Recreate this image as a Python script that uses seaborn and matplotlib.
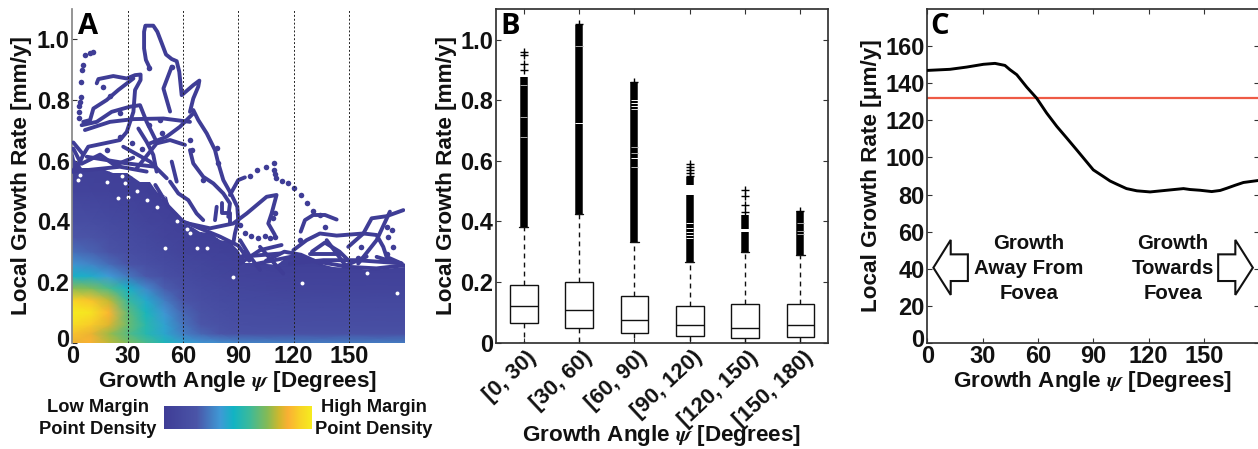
import numpy as np
import pandas as pd
import seaborn as sns
import matplotlib.pyplot as plt
from matplotlib.colors import LinearSegmentedColormap
from matplotlib.patches import Polygon
from matplotlib.transforms import ScaledTranslation

# values
colour_positions = [0, .22, .38, .47, .58, .70, .78, .84, .92, 1]
colour_stops = ["#3f3d96", "#4b55a8", "#3f9ad6", "#12b4c4", "#3dba9a", "#86bb55",
                "#d0b82e", "#fbb034", "#f8d327", "#f6ec1f"]

field_angles = [0, 10, 20, 30, 40, 50, 60, 70, 80, 90, 120, 150, 180.5]
field_rates = [0, .03, .06, .10, .14, .18, .22, .26, .30, .35, .40, .50, .70]
field_density = [
    [.82, .84, .76, .68, .60, .50, .41, .37, .35, .33, .31, .31, .31],
    [.88, .82, .72, .62, .52, .42, .32, .26, .22, .19, .18, .18, .18],
    [.95, .90, .80, .66, .53, .41, .29, .22, .18, .16, .15, .15, .15],
    [1.0, .97, .85, .64, .49, .37, .26, .19, .16, .14, .13, .13, .13],
    [.92, .88, .76, .57, .43, .31, .21, .16, .13, .12, .10, .10, .10],
    [.70, .68, .60, .46, .34, .24, .17, .13, .11, .09, .07, .07, .07],
    [.46, .44, .38, .30, .23, .17, .13, .10, .08, .07, .05, .05, .05],
    [.36, .33, .27, .21, .17, .13, .10, .08, .06, .05, .03, .03, .03],
    [.28, .25, .20, .16, .13, .10, .07, .05, .04, .03, .01, .01, .01],
    [.22, .20, .16, .13, .10, .07, .05, .03, .02, .01, 0, 0, 0],
    [.16, .15, .12, .10, .07, .05, .03, .01, 0, 0, 0, 0, 0],
    [.07, .06, .05, .04, .02, 0, 0, 0, 0, 0, 0, 0, 0],
    [0, 0, 0, 0, 0, 0, 0, 0, 0, 0, 0, 0, 0],
]
edge_angles = [0, 1.4, 5, 15, 22.2, 29.5, 36.7, 42.1, 45.8, 51.2, 53, 56.6, 59.3, 64.7, 69.3, 74.6, 80.1,
               85.5, 90, 93.7, 100, 110.8, 116.3, 123.5, 132.5, 141.6, 150.6, 163.3, 180.5]
edge_rates = [.646, .602, .575, .575, .558, .558, .53, .53, .497, .481, .442, .426, .393, .382, .365, .36, .34,
              .332, .305, .262, .262, .256, .284, .284, .262, .251, .245, .24, .25]

traces = [
    ([42.1, 39.9, 38.9, 38.9, 39.6, 43.9, 46.1, 48.5, 50.8, 53.9, 56.6, 58, 59.3, 62, 65.6, 68.9, 68.3, 65.6, 63.8],
     [.904, .932, .97, 1.025, 1.045, 1.045, 1.025, .987, .95, .935, .928, .893, .816, .83, .849, .864, .844, .805, .761]),
    ([65.6, 68.3, 72.9, 77.4, 79.2, 81.9, 86.4, 89.5, 90, 88.2, 87.3],
     [.767, .734, .69, .635, .591, .536, .487, .448, .404, .36, .328]),
    ([63.8, 65.6, 71, 76.5, 81.9, 85.5, 84.6], [.635, .591, .547, .525, .492, .459, .415]),
    ([85.5, 90, 93.6], [.487, .536, .545]),
    ([78.3, 77.4], [.448, .404]),
    ([81, 81, 85.5, 85.5], [.459, .426, .426, .393]),
    ([53, 57.5, 62.9, 67.4, 71], [.531, .492, .47, .426, .404]),
    ([62, 74.7, 87.3, 94.6, 105.4, 110.8, 108.1, 106.3, 109.9], [.394, .377, .393, .426, .481, .487, .426, .393, .355]),
    ([42.1, 51.1, 58.4, 65.6], [.657, .679, .712, .756]),
    ([53.9, 49.4, 53], [.91, .838, .762]),
    ([13.2, 14.1, 22.2, 29.5, 34, 37, 37, 34, 33.1, 29.5, 25.8, 8.6, 5.9],
     [.855, .869, .879, .871, .882, .884, .866, .833, .761, .695, .668, .646, .619]),
    ([5.9, 9.6, 11.4, 18.6, 24.9, 33.1], [.728, .734, .772, .8, .833, .871]),
    ([5, 13.2, 21.3, 31.3, 36.7, 40.3, 45.7], [.717, .728, .761, .778, .783, .728, .662]),
    ([6.8, 20.4, 33.1, 49.4, 63.8], [.701, .728, .737, .739, .728]),
    ([35.8, 40.3, 43.9, 45.7], [.706, .662, .619, .564]),
    ([27.6, 42.1, 51.2], [.646, .597, .542]),
    ([34.9, 45.7, 53, 61.1], [.575, .657, .668, .652]),
    ([53.9, 56.6], [.597, .531]),
    ([0, 25.8, 40.3], [.564, .58, .564]),
    ([.5, 4.1, 0], [.64, .597, .564]),
    ([.5, 5.9, 3], [.66, .62, .58]),
    ([7.8, 29.5, 45], [.613, .591, .58]),
    ([5, 15, 23, 33], [.59, .62, .585, .61]),
    ([45, 52, 60, 70, 80, 90, 96], [.52, .45, .40, .375, .35, .32, .27]),
    ([100, 120, 135, 150, 165, 180], [.26, .285, .265, .25, .245, .255]),
    ([93.6, 90.9, 101.8, 113.5], [.30, .261, .305, .322]),
    ([90.9, 112.6], [.283, .294]),
    ([101.8, 114.4], [.316, .228]),
    ([123.9, 126.2, 130.7, 137.1, 143.4], [.366, .404, .421, .421, .406]),
    ([119.9, 127.1, 134.3, 143.4, 157.9, 165.1, 168.7, 170.5, 178.7],
     [.305, .338, .36, .353, .36, .355, .316, .283, .261]),
    ([149.7, 157.9, 162.4, 170.5, 179.6], [.316, .36, .41, .417, .437]),
    ([155.1, 165.1, 172.3], [.261, .338, .432]),
    ([128.9, 145.2], [.294, .294]),
    ([138, 148.8], [.338, .25]),
    ([118.1, 136.2, 154.2, 178], [.261, .272, .272, .262]),
    ([91, 96.4, 101.8], [.338, .284, .24]),
    ([105, 115, 124, 135], [.27, .30, .29, .26]),
    ([147, 159.7], [.251, .284]),
    ([130, 137, 145, 150], [.30, .33, .30, .27]),
    ([165.1, 172, 178.7], [.283, .27, .261]),
]
dot_angles = [6.8, 9.6, 11.4, 5.9, 5, 4.7, 4.5, 4.1, 3.8, 3.7, 3.7, 16.4, 20.4, 41.8, 53.9, 47.5, 48.5, 41.6, 25.8, 25.8,
              32.2, 37.6, 18.6, 63.8, 64.7, 79.2, 78.3, 71, 96.4, 100, 105, 109.6, 109.6, 110, 110.5, 113.5, 117.2,
              120.4, 123.9, 127.1, 130.7, 134.3, 90.9, 93.6, 96.7, 100.9, 104.5, 107.2, 109.9, 109, 109.9, 123.5,
              137, 156.4, 155.1, 170.5, 173.2, 171.4, 174.1, 170.5]
dot_rates = [.948, .954, .957, .915, .899, .86, .811, .794, .761, .78, .74, .844, .814, .906, .91, .734, .69, .717, .756,
             .679, .657, .64, .635, .668, .635, .591, .641, .536, .55, .569, .58, .591, .569, .555, .542, .534, .525,
             .509, .487, .461, .435, .421, .388, .363, .352, .344, .352, .344, .347, .41, .426, .338, .382, .316,
             .278, .382, .371, .349, .316, .294]
speck_angles = [4.2, 28.6, 25, 30.4, 18.6, 49.4, 40.3, 45.8, 67.5, 72.9, 87.3, 124.4, 159.7, 50.3, 176, 3, 27, 60,
                62, 35, 57, 64]
speck_rates = [.553, .525, .476, .481, .531, .481, .47, .448, .311, .311, .218, .196, .229, .311, .163, .535, .55,
               .40, .375, .50, .40, .36]

bin_labels = ["[0, 30)", "[30, 60)", "[60, 90)", "[90, 120)", "[120, 150)", "[150, 180)"]
whisker_low = [0, 0, 0, 0, 0, 0]
q1 = [.066, .05, .033, .022, .014, .02]
median = [.121, .107, .076, .06, .049, .058]
q3 = [.192, .199, .153, .121, .129, .129]
whisker_high = [.382, .423, .332, .267, .298, .291]
flier_bins = [0, 1, 2, 3, 3, 4, 4, 5]
flier_low = [.382, .423, .332, .267, .52, .298, .375, .291]
flier_high = [.877, 1.047, .86, .487, .547, .365, .42, .435]
plus_bins = [0, 0, 0, 0, 1, 2, 3, 3, 3, 3, 3, 4, 4, 4, 4, 5]
plus_rates = [.90, .918, .95, .96, 1.05, .86, .55, .56, .57, .58, .59, .43, .455, .485, .505, .435]
gap_bins = [0, 0, 0, 1, 1, 2, 2, 2, 2, 2, 2, 2, 2, 3, 3, 3, 3, 3, 4, 5, 5, 5]
gap_rates = [.85, .746, .68, .98, .725, .80, .79, .78, .77, .645, .625, .61, .58, .395, .38, .365, .355, .345, .37, .395, .37, .36]
gap_shades = ["#aaaaaa", "#aaaaaa", "#aaaaaa", "#aaaaaa", "white", "white", "white", "white", "#dddddd", "#aaaaaa",
              "#aaaaaa", "white", "#bbbbbb", "white", "white", "white", "white", "white", "white", "#aaaaaa", "#aaaaaa", "#aaaaaa"]

curve_angles = [0, 12.3, 21.3, 30.4, 36.7, 42.1, 44.8, 48.5, 53.9, 59.3, 64.7, 70.2, 75.6, 81, 85.5, 90, 95.5, 99.1,
                102.7, 108, 113.6, 120.8, 129.8, 138.9, 142.5, 147.9, 154.2, 158.8, 162.4, 166.9, 171.4, 179.6]
curve_rates = [147, 147.6, 148.8, 150.3, 150.8, 149.7, 147.4, 144.7, 138, 132, 124, 116.8, 110.5, 104.1, 98.7, 93.3,
               89.7, 87.3, 85.6, 83.2, 82, 81.4, 82.3, 83.2, 82.7, 82.3, 81.6, 82.2, 83.4, 85, 86.5, 87.6]
mean_rate = 132

W, H = 1258, 449
sns.set_theme(style="white")
plt.rcParams["font.family"] = ["Liberation Sans", "DejaVu Sans"]
plt.rcParams["font.weight"] = "bold"
plt.rcParams["mathtext.fontset"] = "stix"
plt.rcParams["axes.edgecolor"] = "#333333"
TICK = 17
LABEL = 16.2
INK = "#3f3d96"

fig = plt.figure(figsize=(W / 100, H / 100), dpi=100)


def axes_px(x0, x1, y0, y1):
    return fig.add_axes([x0 / W, 1 - y1 / H, (x1 - x0) / W, (y1 - y0) / H])


def label_px(x, y, s, size=LABEL, rotation=0):
    fig.text(x / W, 1 - y / H, s, fontsize=size, rotation=rotation, ha="center", va="center",
             color="#111111", fontweight="bold")


def nudge(lab, dx, dy):
    # shift a tick label by a few pixels (dy up)
    lab.set_transform(lab.get_transform() + ScaledTranslation(dx / 100, dy / 100, fig.dpi_scale_trans))


def style_ticks(ax, **kw):
    ax.tick_params(direction="in", length=3.5, width=0.8, color="#333333", labelsize=TICK,
                   labelcolor="#111111", pad=2, **kw)
    for lab in ax.get_xticklabels() + ax.get_yticklabels():
        lab.set_fontweight("bold")


# Panel A
cmap = LinearSegmentedColormap.from_list("margin", list(zip(colour_positions, colour_stops)))
a = axes_px(72.4, 405, 9, 342.7)
mesh = a.pcolormesh(field_angles, field_rates, np.array(field_density), cmap=cmap, vmin=0, vmax=1,
                    shading="gouraud", zorder=1)
edge = Polygon(list(zip(edge_angles, edge_rates)) + [(180.5, 0), (0, 0)], transform=a.transData)
mesh.set_clip_path(edge)
sns.scatterplot(x=speck_angles, y=speck_rates, ax=a, color="white", s=8, marker="o", linewidth=0, zorder=2)
for tx, ty in traces:
    sns.lineplot(x=tx, y=ty, ax=a, sort=False, estimator=None, color=INK, linewidth=2.8, zorder=3,
                 solid_capstyle="round", solid_joinstyle="round")
sns.scatterplot(x=dot_angles, y=dot_rates, ax=a, color=INK, s=16, linewidth=0, zorder=3, clip_on=False)
for v in [30, 60, 90, 120, 150]:
    a.axvline(v, color="#222222", lw=0.7, ls=(0, (2, 2)), zorder=4)
a.set_xlim(0, 180.5)
a.set_ylim(0, 1.1)
a.set_xticks([0, 30, 60, 90, 120, 150])
a.set_yticks([0, .2, .4, .6, .8, 1.0], ["0", "0.2", "0.4", "0.6", "0.8", "1.0"])
sns.despine(ax=a, top=True, right=True, bottom=True)
a.spines["left"].set_color("#888888")
style_ticks(a, bottom=False, left=True)
nudge(a.get_yticklabels()[0], 0, 5)

# colour key
key = axes_px(164, 312, 406, 429)
key.imshow(np.linspace(0, 1, 256)[None, :], cmap=cmap, aspect="auto")
key.axis("off")

# Panel B
rows = []
for lab, vals in zip(bin_labels, zip(whisker_low, q1, median, q3, whisker_high)):
    rows += [{"bin": lab, "rate": v} for v in vals]
df = pd.DataFrame(rows)
b = axes_px(496, 828, 9.3, 342.7)
sns.boxplot(data=df, x="bin", y="rate", ax=b, order=bin_labels, whis=(0, 100), width=.5, color="white",
            linecolor="#111111", linewidth=1, fliersize=0, capwidths=.16,
            whiskerprops={"linestyle": (0, (3.5, 3))})
b.vlines(flier_bins, flier_low, flier_high, color="black", lw=5.4, zorder=3)
b.hlines(gap_rates, np.array(gap_bins) - .065, np.array(gap_bins) + .065, colors=gap_shades, lw=.7, zorder=4)
sns.scatterplot(x=plus_bins, y=plus_rates, ax=b, marker="+", color="black", s=36, linewidth=1, zorder=3)
b.set_xlim(-.5, 5.5)
b.set_ylim(0, 1.1)
b.set_yticks([0, .2, .4, .6, .8, 1.0], ["0", "0.2", "0.4", "0.6", "0.8", "1.0"])
b.set_xticks(range(6), bin_labels, rotation=43, ha="right", rotation_mode="anchor")
b.set_xlabel("")
b.set_ylabel("")
style_ticks(b, top=True, right=True, bottom=True, left=True)
b.tick_params(axis="x", labelsize=15.8, pad=3)
for lab in b.get_xticklabels():
    nudge(lab, 3, 0)

# Panel C
c = axes_px(927.3, 1259.3, 9.3, 342.7)
sns.lineplot(x=curve_angles, y=curve_rates, ax=c, color="black", linewidth=2.1, sort=False, estimator=None,
             zorder=3, solid_joinstyle="round")
c.axhline(mean_rate, color="#ee5a45", lw=1.6, zorder=2)
left_arrow = [(3.3, 40.5), (12.7, 55.5), (12.7, 47.7), (22, 47.7), (22, 33.3), (12.7, 33.3), (12.7, 25.8)]
right_arrow = [(176.5, 40.5), (167, 55.5), (167, 47.7), (157.7, 47.7), (157.7, 33.3), (167, 33.3), (167, 25.8)]
for pts in (left_arrow, right_arrow):
    c.add_patch(Polygon(pts, closed=True, fc="white", ec="#111111", lw=1.5))
for cx, lines in ((55, ["Growth", "Away From", "Fovea"]), (133, ["Growth", "Towards", "Fovea"])):
    for ty, s in zip((53.7, 40.2, 26.7), lines):
        c.text(cx, ty, s, ha="center", va="center", fontsize=14.7, fontweight="bold", color="#111111")
c.set_xlim(0, 180)
c.set_ylim(0, 180)
c.set_xticks([0, 30, 60, 90, 120, 150])
c.set_yticks(range(0, 161, 20))
style_ticks(c, top=True, right=True, bottom=True, left=True)
nudge(c.get_yticklabels()[0], 0, 5)

# axis titles and panel letters
xt = r"Growth Angle $\psi$ [Degrees]"
label_px(238, 382, xt)
label_px(662, 436, xt)
label_px(1093, 382, xt)
label_px(22, 176, "Local Growth Rate [mm/y]", rotation=90)
label_px(446, 176, "Local Growth Rate [mm/y]", rotation=90)
label_px(872, 176, "Local Growth Rate [\u03bcm/y]", rotation=90)
label_px(98, 407, "Low Margin", size=13.2)
label_px(98, 430, "Point Density", size=13.2)
label_px(374, 407, "High Margin", size=13.2)
label_px(374, 430, "Point Density", size=13.2)
for x, s in ((88, "A"), (510, "B"), (940, "C")):
    fig.text(x / W, 1 - 26 / H, s, fontsize=21, ha="center", va="center", fontweight="bold",
             family="Open Sans", color="black")

plt.savefig("out.png", dpi=100)
